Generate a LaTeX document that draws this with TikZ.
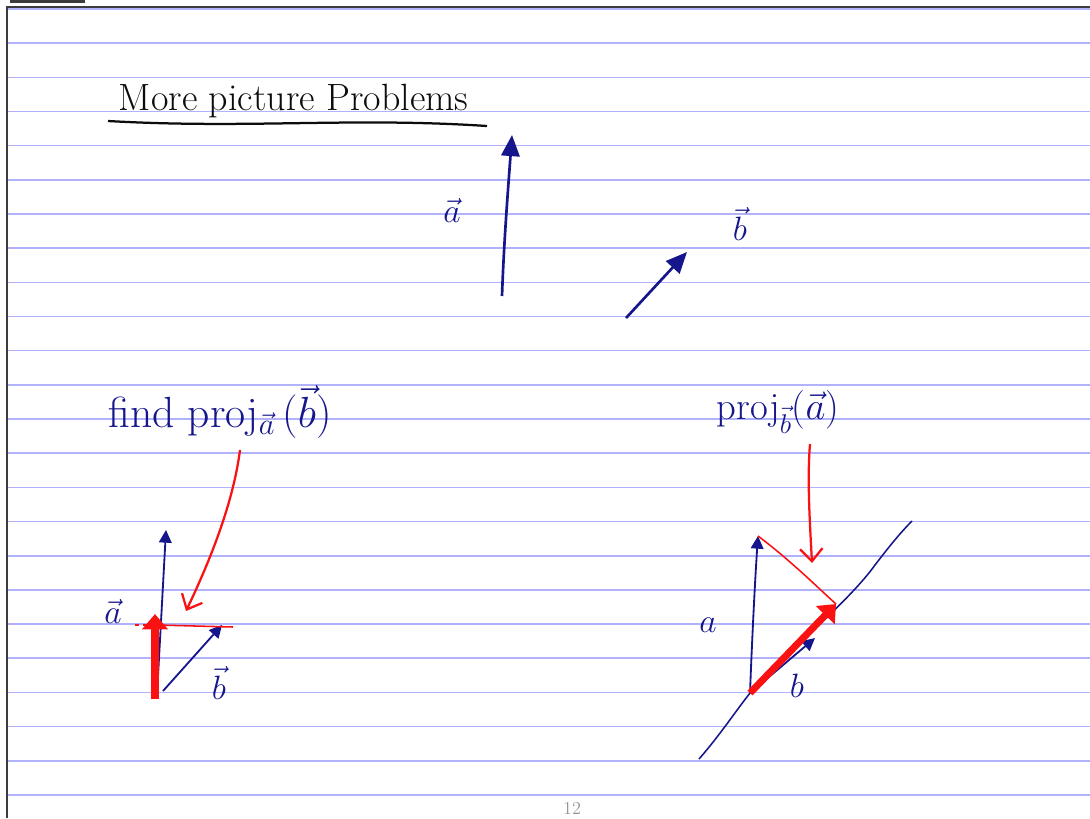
\documentclass[tikz,border=0pt]{standalone}
\usepackage{fix-cm}
\usepackage{amsmath}
\usepackage{tikz}
\usetikzlibrary{arrows.meta, positioning, calc}
\definecolor{inkblue}{RGB}{22,22,140}
\definecolor{inkred}{RGB}{250,18,18}
\definecolor{inkblack}{RGB}{12,12,12}
\definecolor{ruleblue}{RGB}{178,178,250}
\definecolor{framegray}{RGB}{60,60,60}
\definecolor{pagegray}{RGB}{150,150,150}
\tikzset{
  rule/.style={draw=ruleblue, line width=1.1pt},
  frame/.style={draw=framegray, line width=1pt},
  bigvec/.style={-{Triangle[length=15pt, width=13pt]}, draw=inkblue, line width=1.9pt},
  smallvec/.style={-{Triangle[length=9pt, width=9pt]}, draw=inkblue, line width=1.3pt},
  redvec/.style={-{Triangle[length=11pt, width=18pt]}, draw=inkred, line width=5pt},
  redthin/.style={draw=inkred, line width=1.1pt},
  pointer/.style={-{Straight Barb[length=9pt, width=16pt]}, draw=inkred, line width=1.6pt},
  bluetext/.style={text=inkblue, inner sep=1pt},
  veclabel/.style={text=inkblue, font=\fontsize{24}{28}\selectfont, inner sep=1pt}
}

\begin{document}
\begin{tikzpicture}[x=0.025cm, y=-0.025cm]
  \useasboundingbox (0,0) rectangle (1090,818);

  % Ruled page
  \foreach \k in {0,...,23}
    \draw[rule] (7,{9+\k*34.17}) -- (1090,{9+\k*34.17});
  \draw[frame] (7,818) -- (7,7) -- (1090,7);
  \fill[framegray] (10,0) rectangle (85,2.5);
  \node[text=pagegray, font=\fontsize{13}{15}\selectfont] (page) at (572,808) {12};

  % Title
  \node[text=inkblack, font=\fontsize{27}{32}\selectfont, anchor=base west] (title) at (114,110) {More picture Problems};
  \draw[inkblack, line width=1.6pt] (108,121) .. controls (250,129) and (350,117) .. (487,126);

  % Vectors a and b
  \coordinate (aTail) at (502,296);
  \coordinate (aTip) at (512,135);
  \coordinate (bTail) at (626,318);
  \coordinate (bTip) at (687,252);
  \draw[bigvec] (aTail) .. controls (504,240) and (508,190) .. (aTip);
  \draw[bigvec] (bTail) -- (bTip);
  \node[veclabel] (aLab) at (452,210) {$\vec a$};
  \node[veclabel] (bLab) at (740,224) {$\vec b$};

  % Question texts
  \node[bluetext, font=\fontsize{31}{37}\selectfont] (qLeft) at (220,412) {find proj$_{\vec a}$\,($\vec b$)};
  \node[bluetext, font=\fontsize{27.5}{33}\selectfont] (qRight) at (778,412) {proj$_{\vec b}$($\vec a$)};

  % Left sketch
  \coordinate (O1) at (157,695);
  \coordinate (A1) at (166,530);
  \coordinate (B1) at (222,625);
  \coordinate (P1) at (155,614);
  \coordinate (H1s) at (135,625);
  \coordinate (H1e) at (233,627);
  \coordinate (L1s) at (240,450);
  \coordinate (L1e) at (186,611);
  \draw[smallvec] (O1) -- (A1);
  \draw[smallvec] ($(O1)+(6,-4)$) -- (B1);
  \draw[redvec] ($(O1)+(-2,4)$) -- (P1);
  \draw[redthin, dashed] (H1s) -- (157,625);
  \draw[redthin] (157,625) -- (H1e);
  \draw[pointer] (L1s) .. controls (233,505) and (208,565) .. (L1e);
  \node[veclabel] (a1Lab) at (113,611) {$\vec a$};
  \node[veclabel] (b1Lab) at (219,683) {$\vec b$};

  % Right sketch
  \coordinate (Ls) at (699,759);
  \coordinate (Le) at (912,521);
  \coordinate (O2) at (750,693);
  \coordinate (A2) at (758,536);
  \coordinate (B2) at (815,638);
  \coordinate (P2) at (836,604);
  \coordinate (R2s) at (810,444);
  \coordinate (R2e) at (812,563);
  \draw[inkblue, line width=1.1pt] (Ls) .. controls (720,735) and (735,712) .. (O2)
    .. controls (790,650) and (850,600) .. (875,565) .. controls (888,548) and (900,533) .. (Le);
  \draw[smallvec] (O2) .. controls (752,640) and (755,580) .. (A2);
  \draw[smallvec] (O2) -- (B2);
  \draw[redvec] (O2) -- (P2);
  \draw[redthin] (A2) .. controls (790,560) and (815,585) .. (P2);
  \draw[pointer] (R2s) .. controls (807,480) and (810,525) .. (R2e);
  \node[veclabel] (a2Lab) at (708,625) {$a$};
  \node[veclabel] (b2Lab) at (797,686) {$b$};
\end{tikzpicture}
\end{document}
